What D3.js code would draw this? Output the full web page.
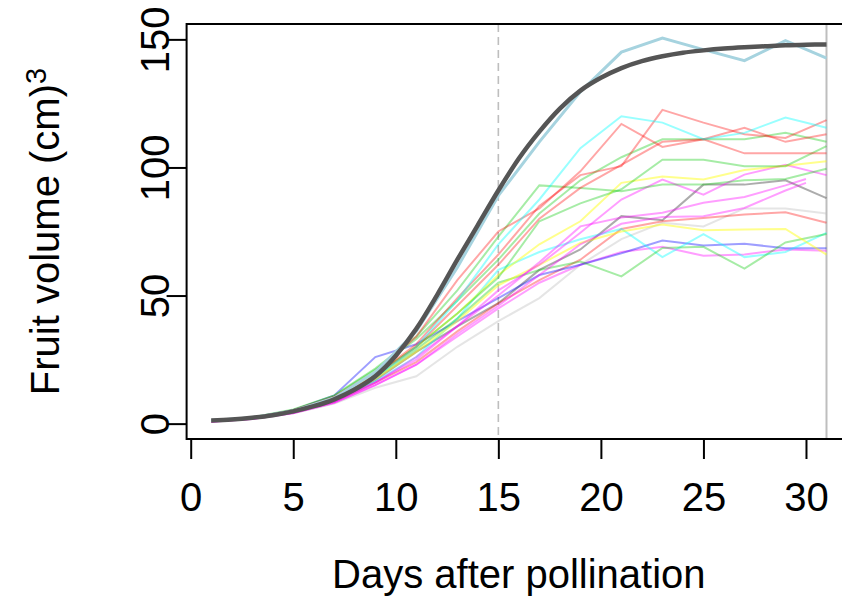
<!DOCTYPE html>
<html>
<head>
<meta charset="utf-8">
<script src="https://cdn.jsdelivr.net/npm/d3@7"></script>
<style>
  body { margin: 0; background: #fff; }
  svg text { font-family: "Liberation Sans", Arial, sans-serif; }
</style>
</head>
<body>
<div id="chart"></div>
<script>
// measurement days
var days = [1,3,5,7,9,11,13,15,17,19,21,23,25,27,29,31];
var days30 = [1,3,5,7,9,11,13,15,17,19,21,23,25,27,29,30];
var fitDays = d3.range(1, 32);

// fitted growth curve
var fitValues = [1.2,1.6,2.3,3.3,4.8,6.8,9.5,13.3,18.5,26.5,37,50,64,77.5,91,103.5,
                 114,123,130,135,138.8,141.5,143.4,144.8,145.7,146.4,146.9,147.3,147.7,147.9,148];

// highlighted fruit
var lightblueA = [1.2,2.3,5.0,10,20,36,61,89,110,129.5,145,150.5,146,141.7,149.5,142.7];

// the other fruits
var redA = [1.1,2.3,5.2,10.5,20,34,56,75,84,98.5,117,108,111,115.5,110,113];
var redB = [1.0,2.2,5.0,10,19,31,49,66,85,97,100.5,122.5,117.5,113,111.5,118.5];
var redC = [1.2,2.1,4.8,9.8,18.5,30,46,62,80,92,101,110,111,105.5,105.5,105.5];
var redD = [0.9,2.0,4.3,8.5,16,24,36,47,56,64,76,79,80.3,81.6,82.5,78.4];
var greenA = [1.1,2.3,5.3,10.8,21,33,48,64,82,95,104,111,111,111,113.5,110];
var greenB = [1.2,2.4,5.5,11,21.5,34,52,73,93,92,90.7,93.3,93.3,95,95.5,99.5];
var greenC = [1.0,2.2,5.0,10,19,30,43,57,79,86,91.5,103,103,100.5,100.5,108.3];
var greenD = [1.0,2.1,4.7,9.5,18,29,41,55,60,63.3,57.5,68.6,69,60.5,70.7,74];
var cyanA = [1.0,2.1,4.6,9.5,18,30,48,70,87.5,107.5,120,117.5,111,113.5,119.5,115.5];
var cyanB = [0.9,2.0,4.4,8.8,16.5,26,41,60,67,72,76,65,74,65,67,74.5];
var yellowA = [1.0,2.2,4.9,10,19,30,43,58,70,79,94,96.5,95.3,99,100.7,102.4];
var yellowB = [0.9,2.1,4.6,9.3,17.5,28,40,54,62,70.5,75,77.7,75.5,75.8,76,66];
var magentaA = [0.8,1.9,4.2,8.5,16,25,38,52,62,74.5,87.5,95.3,89.4,97.2,101,97];
var magentaB = [0.8,1.9,4.3,8.6,16,26,38,50,63,77,80.5,82.3,86.2,88.5,93,95.5];
var magentaC = [0.7,1.8,4.1,8.2,15,23,35,46,58,70,78,80.7,81,84.2,91,94];
var magentaD = [0.7,1.8,4.0,8.0,15,23,34,45,55,62,67,69,65.5,66,68,67.5];
var blueA = [1.0,2.3,5.2,11,26,31,40,49,58,62,66.5,71.5,69.5,70.2,68.5,68.5];
var grayA = [0.9,2.0,4.4,8.8,17,28,38,47,60,68,81,79.4,93.3,93.3,95,88];
var lightgrayA = [0.8,1.9,4.0,7.8,14,18.5,30,40,49,62,72,78.4,77,84,84,82];

var xTicks = [0,5,10,15,20,25,30];
var yTicks = [0,50,100,150];

var thin = [
  {v: lightgrayA, d: days, c: "rgba(190,190,190,0.4)"},
  {v: grayA, d: days, c: "rgba(90,90,90,0.5)"},
  {v: redD, d: days, c: "rgba(255,0,0,0.35)"},
  {v: magentaD, d: days, c: "rgba(255,0,255,0.38)"},
  {v: blueA, d: days, c: "rgba(0,0,255,0.38)"},
  {v: cyanB, d: days, c: "rgba(0,255,255,0.4)"},
  {v: greenD, d: days, c: "rgba(0,200,0,0.35)"},
  {v: yellowB, d: days, c: "rgba(255,255,0,0.45)"},
  {v: magentaC, d: days30, c: "rgba(255,0,255,0.38)"},
  {v: magentaB, d: days30, c: "rgba(255,0,255,0.38)"},
  {v: magentaA, d: days, c: "rgba(255,0,255,0.38)"},
  {v: yellowA, d: days, c: "rgba(255,255,0,0.45)"},
  {v: greenC, d: days, c: "rgba(0,200,0,0.35)"},
  {v: greenB, d: days, c: "rgba(0,200,0,0.35)"},
  {v: greenA, d: days, c: "rgba(0,200,0,0.35)"},
  {v: redC, d: days, c: "rgba(255,0,0,0.35)"},
  {v: redB, d: days, c: "rgba(255,0,0,0.35)"},
  {v: redA, d: days, c: "rgba(255,0,0,0.35)"},
  {v: cyanA, d: days, c: "rgba(0,255,255,0.4)"}
];

// set the dimensions
var width = 842, height = 598;

// set the ranges
var x = d3.scaleLinear().domain([-0.2, 32.2]).range([186.6, 851.1]);
var y = d3.scaleLinear().domain([-6, 156]).range([439, 24]);

var line = d3.line()
    .x(function(d) { return x(d[0]); })
    .y(function(d) { return y(d[1]); });

var smooth = d3.line()
    .x(function(d) { return x(d[0]); })
    .y(function(d) { return y(d[1]); })
    .curve(d3.curveMonotoneX);

var svg = d3.select("#chart")
    .append("svg")
    .attr("width", width)
    .attr("height", height);

// vertical reference lines
svg.append("line")
    .attr("x1", x(15)).attr("x2", x(15))
    .attr("y1", y(156)).attr("y2", y(-6))
    .style("stroke", "#bebebe")
    .style("stroke-width", 1.6)
    .style("stroke-dasharray", "8,5");

svg.append("line")
    .attr("x1", x(31)).attr("x2", x(31))
    .attr("y1", y(156)).attr("y2", y(-6))
    .style("stroke", "#bebebe")
    .style("stroke-width", 2);

// thin lines
thin.forEach(function(s) {
  svg.append("path")
      .datum(s.d.map(function(d, i) { return [d, s.v[i]]; }))
      .attr("fill", "none")
      .style("stroke", s.c)
      .style("stroke-width", 2)
      .attr("d", line);
});

// highlighted fruit
svg.append("path")
    .datum(days.map(function(d, i) { return [d, lightblueA[i]]; }))
    .attr("fill", "none")
    .style("stroke", "#a6d3df")
    .style("stroke-width", 3)
    .attr("d", line);

// fitted curve
svg.append("path")
    .datum(fitDays.map(function(d, i) { return [d, fitValues[i]]; }))
    .attr("fill", "none")
    .style("stroke", "#555555")
    .style("stroke-width", 4.5)
    .attr("d", smooth);

// box
svg.append("rect")
    .attr("x", x(-0.2)).attr("y", y(156))
    .attr("width", x(32.2) - x(-0.2))
    .attr("height", y(-6) - y(156))
    .attr("fill", "none")
    .style("stroke", "#000")
    .style("stroke-width", 2);

// X axis
var xAxis = svg.append("g")
    .attr("transform", "translate(0," + y(-6) + ")")
    .call(d3.axisBottom(x).tickValues(xTicks).tickSize(20).tickPadding(24));
xAxis.select(".domain").remove();
xAxis.selectAll("line").style("stroke-width", 2);
xAxis.selectAll("text").style("font-size", "40px").style("fill", "#000")
    .style("font-family", "Liberation Sans, Arial, sans-serif");

// Y axis
var yAxis = svg.append("g")
    .attr("transform", "translate(" + x(-0.2) + ",0)")
    .call(d3.axisLeft(y).tickValues(yTicks).tickSize(20));
yAxis.select(".domain").remove();
yAxis.selectAll("line").style("stroke-width", 2);
yAxis.selectAll("text")
    .attr("x", 0).attr("dy", 0)
    .attr("text-anchor", "middle")
    .attr("transform", "translate(-18,0) rotate(-90)")
    .style("font-size", "40px").style("fill", "#000")
    .style("font-family", "Liberation Sans, Arial, sans-serif");

// titles
svg.append("text")
    .attr("x", (x(-0.2) + x(32.2)) / 2)
    .attr("y", 588)
    .attr("text-anchor", "middle")
    .style("font-size", "40px")
    .text("Days after pollination");

var yt = svg.append("text")
    .attr("transform", "translate(59," + (y(-6) + y(156)) / 2 + ") rotate(-90)")
    .attr("text-anchor", "middle")
    .style("font-size", "40px");
yt.append("tspan").text("Fruit volume (cm)");
yt.append("tspan").attr("dy", "-0.45em").style("font-size", "29px").text("3");
</script>
</body>
</html>
